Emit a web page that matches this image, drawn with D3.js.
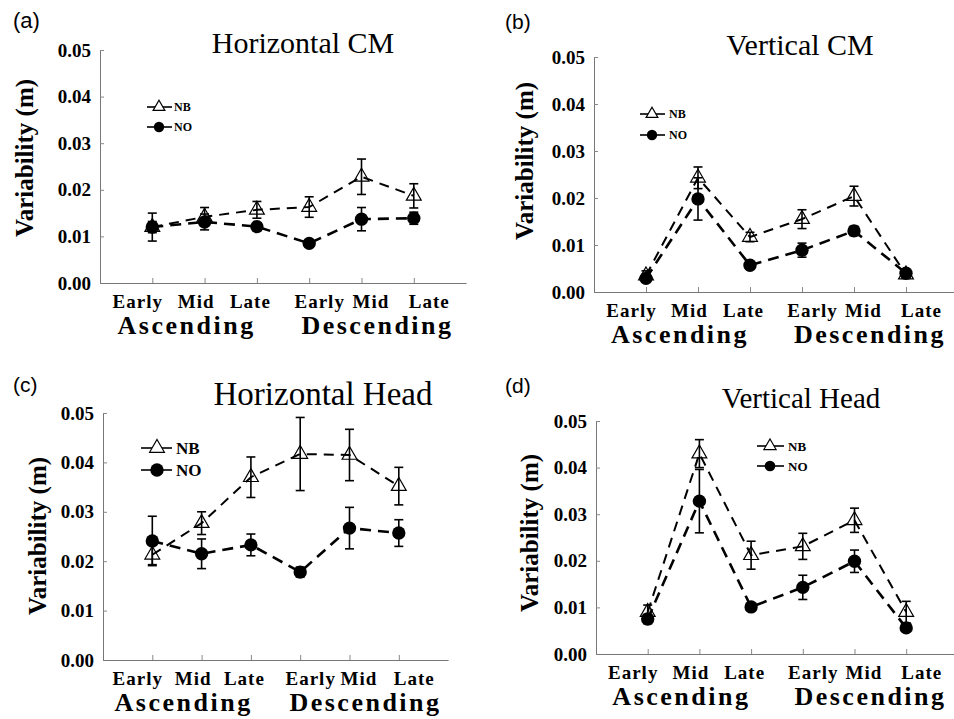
<!DOCTYPE html>
<html>
<head>
<meta charset="utf-8">
<script src="https://cdn.jsdelivr.net/npm/d3@7"></script>
<style>
  html, body { margin: 0; padding: 0; background: #fff; }
  svg { display: block; }
</style>
</head>
<body>
<svg id="chart" width="954" height="719"></svg>
<script>
// ---------------- DATA ----------------
const categories = ["Early", "Mid", "Late", "Early", "Mid", "Late"];
const groups = ["Ascending", "Descending"];
const yTicks = [0, 0.01, 0.02, 0.03, 0.04, 0.05];
const seriesNames = ["NB", "NO"];
const panelTitles = ["Horizontal CM", "Vertical CM", "Horizontal Head", "Vertical Head"];
const panelLetters = ["(a)", "(b)", "(c)", "(d)"];
const yTitle = "Variability (m)";

// (a) Horizontal CM
const hcmNB    = [0.0120, 0.0142, 0.0157, 0.0163, 0.0228, 0.0187];
const hcmNBErr = [0.0030, 0.0020, 0.0018, 0.0022, 0.0038, 0.0026];
const hcmNO    = [0.0120, 0.0131, 0.0121, 0.0085, 0.0137, 0.0139];
const hcmNOErr = [0.0012, 0.0017, 0.0008, 0.0005, 0.0025, 0.0013];

// (b) Vertical CM
const vcmNB    = [0.0035, 0.0243, 0.0117, 0.0155, 0.0204, 0.0037];
const vcmNBErr = [0.0010, 0.0023, 0.0010, 0.0020, 0.0021, 0.0008];
const vcmNO    = [0.0029, 0.0198, 0.0057, 0.0089, 0.0130, 0.0040];
const vcmNOErr = [0.0008, 0.0045, 0.0005, 0.0015, 0.0010, 0.0007];

// (c) Horizontal Head
const hheadNB    = [0.0213, 0.0277, 0.0370, 0.0417, 0.0415, 0.0352];
const hheadNBErr = [0.0020, 0.0023, 0.0041, 0.0074, 0.0052, 0.0038];
const hheadNO    = [0.0241, 0.0215, 0.0233, 0.0178, 0.0267, 0.0257];
const hheadNOErr = [0.0050, 0.0030, 0.0022, 0.0010, 0.0042, 0.0027];

// (d) Vertical Head
const vheadNB    = [0.0090, 0.0430, 0.0212, 0.0231, 0.0287, 0.0090];
const vheadNBErr = [0.0015, 0.0030, 0.0030, 0.0028, 0.0026, 0.0023];
const vheadNO    = [0.0075, 0.0328, 0.0101, 0.0143, 0.0199, 0.0056];
const vheadNOErr = [0.0010, 0.0068, 0.0006, 0.0026, 0.0024, 0.0005];

const panelData = [
  { nb: hcmNB, nbErr: hcmNBErr, no: hcmNO, noErr: hcmNOErr },
  { nb: vcmNB, nbErr: vcmNBErr, no: vcmNO, noErr: vcmNOErr },
  { nb: hheadNB, nbErr: hheadNBErr, no: hheadNO, noErr: hheadNOErr },
  { nb: vheadNB, nbErr: vheadNBErr, no: vheadNO, noErr: vheadNOErr }
];

// ---------------- LAYOUT ----------------
const layout = [
  { x0: 100, dx: 52.3, y0: 283, y5: 50,
    title: { x: 303, y: 53, size: 30 }, letter: { x: 13, y: 28, size: 22 },
    ytitle: { x: 33, y: 158 },
    legend: { l1: 147, l2: 172, m: 159, tx: 174, nbY: 107, noY: 127, size: 12, tri: 60, circ: 85 } },
  { x0: 594, dx: 52, y0: 292, y5: 57,
    title: { x: 800, y: 55, size: 30 }, letter: { x: 505, y: 29, size: 21 },
    ytitle: { x: 533, y: 161 },
    legend: { l1: 640, l2: 665, m: 652, tx: 669, nbY: 114, noY: 135, size: 12, tri: 60, circ: 85 } },
  { x0: 103, dx: 49.3, y0: 660, y5: 413,
    title: { x: 323, y: 405, size: 33 }, letter: { x: 13, y: 392, size: 21 },
    ytitle: { x: 46, y: 536 },
    legend: { l1: 141, l2: 172, m: 157, tx: 176, nbY: 448, noY: 470, size: 17, tri: 95, circ: 140 } },
  { x0: 596, dx: 51.7, y0: 654, y5: 421,
    title: { x: 801, y: 408, size: 29 }, letter: { x: 505, y: 393, size: 21 },
    ytitle: { x: 538, y: 533 },
    legend: { l1: 757, l2: 784, m: 770, tx: 788, nbY: 446, noY: 466, size: 13, tri: 65, circ: 90 } }
];
const labelShift = [-15, -9, -7, 10, 9, 15];
const groupShift = [-18, 16];

const svg = d3.select("#chart");
const serif = "Liberation Serif";
const sans = "Liberation Sans";

function serifText(sel, size, bold) {
  return sel.style("font-family", serif).style("font-weight", bold ? "700" : "400")
    .style("font-size", size + "px").attr("fill", "#000");
}

layout.forEach((L, pi) => {
  const D = panelData[pi];
  const x = d3.scaleLinear().domain([0, 7]).range([L.x0, L.x0 + 7 * L.dx]);
  const y = d3.scaleLinear().domain([0, 0.05]).range([L.y0, L.y5]);
  const g = svg.append("g");

  // panel letter
  g.append("text").attr("x", L.letter.x).attr("y", L.letter.y)
    .style("font-family", sans).style("font-size", L.letter.size + "px")
    .text(panelLetters[pi]);

  // title
  serifText(g.append("text").attr("x", L.title.x).attr("y", L.title.y)
    .attr("text-anchor", "middle"), L.title.size, false).text(panelTitles[pi]);

  // y axis title
  serifText(g.append("text")
    .attr("transform", `translate(${L.ytitle.x},${L.ytitle.y}) rotate(-90)`)
    .attr("text-anchor", "middle"), 25, true).text(yTitle);

  // y axis
  const yAxis = d3.axisLeft(y).tickValues(yTicks).tickSizeInner(-4).tickSizeOuter(0)
    .tickPadding(9).tickFormat(d3.format(".2f"));
  const ya = g.append("g").attr("transform", `translate(${L.x0},0)`).call(yAxis);
  ya.attr("font-family", null).attr("font-size", null);
  ya.select(".domain").attr("stroke", "#777").attr("stroke-width", 1);
  ya.selectAll(".tick line").attr("stroke", "#888");
  serifText(ya.selectAll(".tick text"), 19, true);

  // x axis
  const xAxis = d3.axisBottom(x).tickValues([1, 2, 3, 4, 5, 6]).tickSizeInner(-5)
    .tickSizeOuter(0).tickPadding(0).tickFormat(d => categories[d - 1]);
  const xa = g.append("g").attr("transform", `translate(0,${L.y0})`).call(xAxis);
  xa.attr("font-family", null).attr("font-size", null);
  xa.select(".domain").attr("stroke", "#777").attr("stroke-width", 1);
  xa.selectAll(".tick line").attr("stroke", "#888");
  serifText(xa.selectAll(".tick text"), 19, true)
    .style("letter-spacing", "1px")
    .attr("dy", null).attr("y", 25)
    .attr("x", (d) => labelShift[d - 1]);

  // group labels
  groups.forEach((name, gi) => {
    const cx = x(2 + gi * 3) + groupShift[gi];
    serifText(g.append("text").attr("x", cx).attr("y", L.y0 + 51)
      .attr("text-anchor", "middle"), 26, true)
      .style("letter-spacing", "2.5px").text(name);
  });

  const idx = d3.range(categories.length);
  const line = (vals) => d3.line().x(i => x(i + 1)).y(i => y(vals[i]))(idx);

  // lines
  g.append("path").attr("d", line(D.nb)).attr("fill", "none")
    .attr("stroke", "#000").attr("stroke-width", 2).attr("stroke-dasharray", "10,7");
  g.append("path").attr("d", line(D.no)).attr("fill", "none")
    .attr("stroke", "#000").attr("stroke-width", 2.6).attr("stroke-dasharray", "11,7");

  // error bars
  const errBars = (vals, errs) => {
    idx.forEach(i => {
      const cx = x(i + 1), top = y(vals[i] + errs[i]), bot = y(vals[i] - errs[i]);
      g.append("line").attr("x1", cx).attr("x2", cx).attr("y1", top).attr("y2", bot)
        .attr("stroke", "#000").attr("stroke-width", 1.6);
      [top, bot].forEach(yy => g.append("line").attr("x1", cx - 4.5).attr("x2", cx + 4.5)
        .attr("y1", yy).attr("y2", yy).attr("stroke", "#000").attr("stroke-width", 1.6));
    });
  };
  errBars(D.nb, D.nbErr);
  errBars(D.no, D.noErr);

  // markers
  const tri = d3.symbol().type(d3.symbolTriangle).size(95);
  const circ = d3.symbol().type(d3.symbolCircle).size(140);
  idx.forEach(i => {
    g.append("path").attr("d", circ()).attr("transform", `translate(${x(i + 1)},${y(D.no[i])})`)
      .attr("fill", "#000");
  });
  idx.forEach(i => {
    g.append("path").attr("d", tri()).attr("transform", `translate(${x(i + 1)},${y(D.nb[i])})`)
      .attr("fill", "none").attr("stroke", "#000").attr("stroke-width", 1.2);
  });

  // legend
  const lg = L.legend;
  [[seriesNames[0], lg.nbY, "tri"], [seriesNames[1], lg.noY, "circ"]].forEach(([nm, yy, type]) => {
    g.append("line").attr("x1", lg.l1).attr("x2", lg.l2).attr("y1", yy).attr("y2", yy)
      .attr("stroke", "#000").attr("stroke-width", 1.6);
    if (type === "tri") {
      g.append("path").attr("d", d3.symbol().type(d3.symbolTriangle).size(lg.tri)())
        .attr("transform", `translate(${lg.m},${yy})`)
        .attr("fill", "#fff").attr("stroke", "#000").attr("stroke-width", 1.2);
    } else {
      g.append("path").attr("d", d3.symbol().type(d3.symbolCircle).size(lg.circ)())
        .attr("transform", `translate(${lg.m},${yy})`).attr("fill", "#000");
    }
    serifText(g.append("text").attr("x", lg.tx).attr("y", yy + lg.size * 0.36), lg.size, true)
      .text(nm);
  });
});
</script>
</body>
</html>
